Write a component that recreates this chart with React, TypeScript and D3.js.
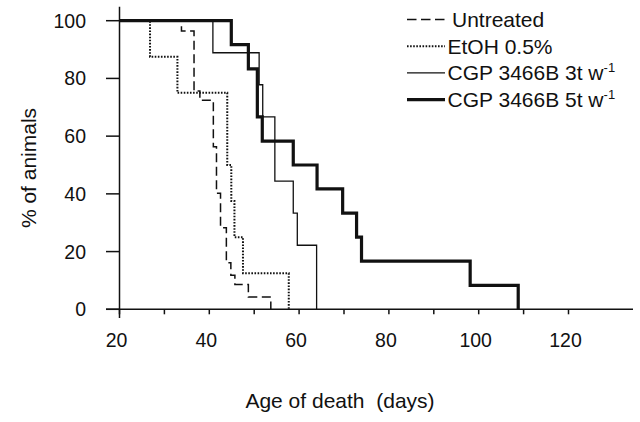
import React from "react";
import * as d3 from "d3";

const untreatedDays = [33.8, 36.6, 37.9, 40.9, 41.6, 42.5, 43.8, 44.8, 45.7, 48.7, 53.7];
const untreatedPct = [96.4, 75.6, 72.4, 56.3, 40.2, 28.3, 16.1, 11.8, 8.6, 4.3, 0];

const etohDays = [26.8, 32.9, 44.0, 44.9, 45.6, 47.5, 57.7];
const etohPct = [87.5, 75, 50, 37.5, 25, 12.5, 0];

const cgp3Days = [40.8, 51.1, 51.9, 54.6, 58.7, 59.6, 63.9];
const cgp3Pct = [88.9, 77.8, 66.7, 44.4, 33.3, 22.2, 0];

const cgp5Days = [44.9, 48.7, 50.7, 51.8, 58.7, 64.0, 69.7, 72.8, 73.9, 98.1, 108.8];
const cgp5Pct = [91.7, 83.3, 66.7, 58.3, 50, 41.7, 33.3, 25, 16.7, 8.3, 0];

const xTicks = [20, 30, 40, 50, 60, 70, 80, 90, 100, 110, 120];
const xTickLabels = [20, 40, 60, 80, 100, 120];
const yTicks = [0, 20, 40, 60, 80, 100];

const seriesNames = ["Untreated", "EtOH 0.5%", "CGP 3466B 3t w", "CGP 3466B 5t w"];

const FONT = "Arial, 'Liberation Sans', Helvetica, sans-serif";
const INK = "#111";

export default function App() {
  const x = d3.scaleLinear().domain([20, 120]).range([119.5, 568.5]);
  const y = d3.scaleLinear().domain([0, 100]).range([309.3, 20.7]);

  const line = d3
    .line<[number, number]>()
    .x((d) => x(d[0]))
    .y((d) => y(d[1]))
    .curve(d3.curveStepAfter);

  const build = (days: number[], pct: number[]) => {
    const pts: [number, number][] = [[20, 100]];
    days.forEach((d, i) => pts.push([d, pct[i]]));
    return line(pts) || "";
  };

  const styles = [
    { w: 1.5, dash: "9 4.5" },
    { w: 2, dash: "1.6 1.5" },
    { w: 1.3, dash: "" },
    { w: 3.2, dash: "" },
  ];
  const paths = [
    build(untreatedDays, untreatedPct),
    build(etohDays, etohPct),
    build(cgp3Days, cgp3Pct),
    build(cgp5Days, cgp5Pct),
  ];

  const axisLeft = 106;
  const axisRight = 633;
  const x0 = x(20);

  return (
    <svg width={640} height={422} style={{ position: "absolute", left: 0, top: 0, background: "#fff" }} fontFamily={FONT}>
      <rect x={0} y={0} width={640} height={422} fill="#fff" />
      {paths.map((p, i) => (
        <path
          key={i}
          d={p}
          fill="none"
          stroke={INK}
          strokeWidth={styles[i].w}
          strokeDasharray={styles[i].dash || undefined}
          strokeLinejoin="miter"
        />
      ))}
      <line x1={axisLeft} x2={axisRight} y1={y(0)} y2={y(0)} stroke={INK} strokeWidth={1.5} />
      <line x1={x0} x2={x0} y1={6.7} y2={318} stroke={INK} strokeWidth={1.5} />
      {xTicks.map((t) => (
        <line key={t} x1={x(t)} x2={x(t)} y1={y(0)} y2={y(0) + 5} stroke={INK} strokeWidth={1.5} />
      ))}
      {xTickLabels.map((t) => (
        <text key={t} x={x(t) - 3} y={347} textAnchor="middle" fontSize={19.5} fill={INK}>
          {t}
        </text>
      ))}
      {yTicks.map((t) => (
        <line key={t} x1={axisLeft} x2={x0} y1={y(t)} y2={y(t)} stroke={INK} strokeWidth={1.5} />
      ))}
      {yTicks.map((t) => (
        <text key={t} x={86} y={y(t) + 7} textAnchor="end" fontSize={19.5} fill={INK}>
          {t}
        </text>
      ))}
      <text x={340} y={408} textAnchor="middle" fontSize={21} fill={INK}>
        Age of death{"\u00a0\u00a0"}(days)
      </text>
      <text transform={`translate(36, 168) rotate(-90)`} textAnchor="middle" fontSize={21} fill={INK}>
        % of animals
      </text>
      {seriesNames.map((name, i) => {
        const cy = 19.5 + i * 26.7;
        return (
          <g key={name}>
            <line
              x1={407}
              x2={445}
              y1={cy}
              y2={cy}
              stroke={INK}
              strokeWidth={styles[i].w}
              strokeDasharray={i === 0 ? "9.5 4.5" : styles[i].dash || undefined}
            />
            <text x={i === 0 ? 452 : 447.5} y={cy + 7.5} fontSize={21} fill={INK}>
              {name}
              {i >= 2 ? (
                <tspan fontSize={13} dy={-8.5}>
                  -1
                </tspan>
              ) : null}
            </text>
          </g>
        );
      })}
    </svg>
  );
}
